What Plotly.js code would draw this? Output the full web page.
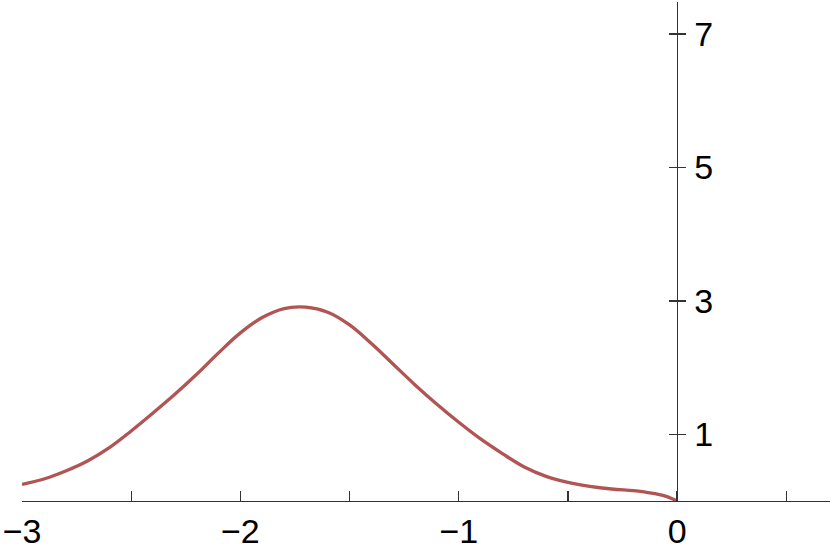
<!DOCTYPE html>
<html>
<head>
<meta charset="utf-8">
<script src="https://cdn.plot.ly/plotly-3.0.1.min.js"></script>
<style>html,body{margin:0;padding:0;background:#fff;}#chart{width:830px;height:549px;}</style>
</head>
<body>
<div id="chart"></div>
<script>
// Curve values
var xValues = [-3.0, -2.9, -2.8, -2.7, -2.6, -2.5, -2.4, -2.3, -2.2, -2.1, -2.0, -1.9, -1.8, -1.7, -1.6, -1.5, -1.4, -1.3, -1.2, -1.1, -1.0, -0.9, -0.8, -0.7, -0.6, -0.5, -0.4, -0.3, -0.2, -0.15, -0.1, -0.05, 0.0];
var yValues = [0.25, 0.33, 0.45, 0.60, 0.80, 1.05, 1.32, 1.60, 1.90, 2.22, 2.52, 2.75, 2.885, 2.905, 2.83, 2.64, 2.36, 2.05, 1.74, 1.45, 1.18, 0.93, 0.71, 0.51, 0.37, 0.28, 0.22, 0.18, 0.155, 0.135, 0.11, 0.07, 0.0];

var xTickVals = [-3, -2.5, -2, -1.5, -1, -0.5, 0, 0.5];
var xTickText = ['\u22123', '', '\u22122', '', '\u22121', '', '0', ''];
var yTickVals = [1, 3, 5, 7];
var yTickText = ['1', '3', '5', '7'];

var xRange = [-3, 0.70];
var yRange = [0, 7.48];
var yAxisPos = (0 - xRange[0]) / (xRange[1] - xRange[0]);

var traces = [
  {x: xValues, y: yValues, type: 'scatter', mode: 'lines',
   line: {color: '#b05454', width: 3.3, shape: 'spline', smoothing: 1.1},
   hoverinfo: 'none', showlegend: false},
  {x: [], y: [], type: 'scatter', mode: 'lines', yaxis: 'y2', showlegend: false, hoverinfo: 'none'}
];

var fontFam = 'Liberation Sans, Arial, sans-serif';
var layout = {
  width: 830, height: 549,
  margin: {l: 22, r: 0, t: 2, b: 48, pad: 0},
  paper_bgcolor: '#ffffff', plot_bgcolor: '#ffffff',
  showlegend: false,
  font: {family: fontFam, size: 34, color: '#000'},
  xaxis: {
    range: xRange, showgrid: false, zeroline: false,
    showline: true, linecolor: '#333', linewidth: 1.3,
    ticks: 'inside', ticklen: 10, tickwidth: 1.3, tickcolor: '#333',
    tickmode: 'array', tickvals: xTickVals, ticktext: xTickText,
    tickfont: {family: fontFam, size: 34, color: '#000'},
    automargin: false
  },
  yaxis: {
    range: yRange, showgrid: false, zeroline: false,
    anchor: 'free', position: yAxisPos, side: 'right',
    showline: true, linecolor: '#333', linewidth: 1.3,
    ticks: 'outside', ticklen: 8, tickwidth: 1.3, tickcolor: '#333',
    tickmode: 'array', tickvals: yTickVals, ticktext: yTickText,
    tickfont: {family: fontFam, size: 34, color: '#000'},
    ticklabelstandoff: 1,
    automargin: false
  },
  yaxis2: {
    range: yRange, overlaying: 'y', showgrid: false, zeroline: false,
    anchor: 'free', position: yAxisPos, side: 'right',
    showline: false,
    ticks: 'inside', ticklen: 8, tickwidth: 1.3, tickcolor: '#333',
    tickmode: 'array', tickvals: yTickVals, showticklabels: false,
    automargin: false
  }
};

Plotly.newPlot('chart', traces, layout, {staticPlot: true, displayModeBar: false});
</script>
</body>
</html>
